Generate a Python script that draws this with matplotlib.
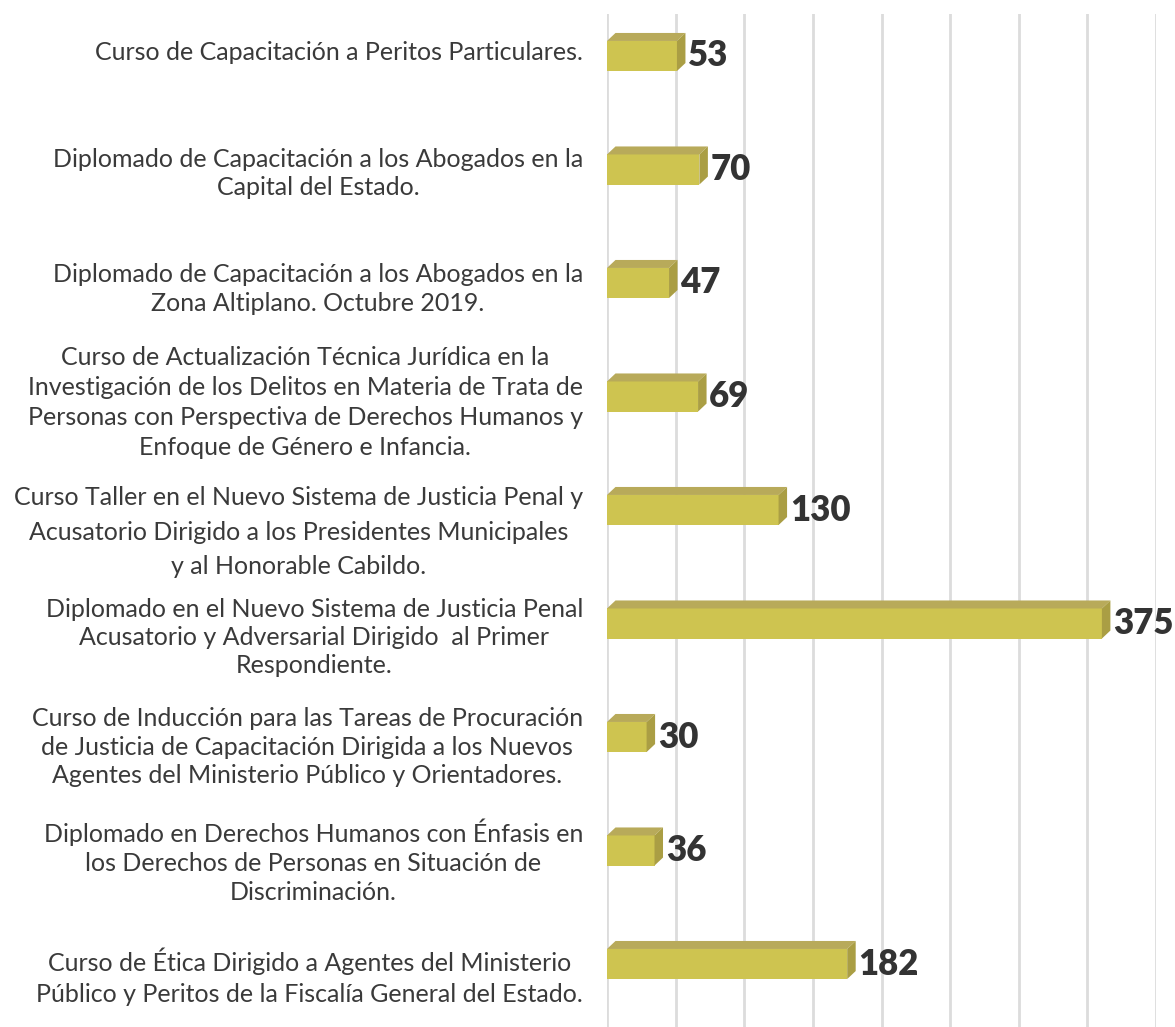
import numpy as np
import matplotlib
matplotlib.use("Agg")
import matplotlib.pyplot as plt
from matplotlib.patches import Polygon
from matplotlib.transforms import ScaledTranslation

# Training programmes and number of participants
categories = [
    "Curso de Capacitación a Peritos Particulares.",
    "Diplomado de Capacitación a los Abogados en la\nCapital del Estado.",
    "Diplomado de Capacitación a los Abogados en la\nZona Altiplano. Octubre 2019.",
    "Curso de Actualización Técnica Jurídica en la\nInvestigación de los Delitos en Materia de Trata de\n"
    "Personas con Perspectiva de Derechos Humanos y\nEnfoque de Género e Infancia.",
    "Curso Taller en el Nuevo Sistema de Justicia Penal y\nAcusatorio Dirigido a los Presidentes Municipales\n"
    "y al Honorable Cabildo.",
    "Diplomado en el Nuevo Sistema de Justicia Penal\nAcusatorio y Adversarial Dirigido  al Primer\nRespondiente.",
    "Curso de Inducción para las Tareas de Procuración\nde Justicia de Capacitación Dirigida a los Nuevos\n"
    "Agentes del Ministerio Público y Orientadores.",
    "Diplomado en Derechos Humanos con Énfasis en\nlos Derechos de Personas en Situación de\nDiscriminación.",
    "Curso de Ética Dirigido a Agentes del Ministerio\nPúblico y Peritos de la Fiscalía General del Estado.",
]
participants = [53, 70, 47, 69, 130, 375, 30, 36, 182]

# vertical nudge (px, positive = down) and line spacing of each category label
label_nudge = [-3, 4, 6, 6, 22, 14, 10, 11, 13]
label_spacing = [1.2, 1.23, 1.28, 1.36, 1.58, 1.27, 1.29, 1.31, 1.4]

FRONT = "#CEC450"
TOP = "#B8AA5A"
SIDE = "#AA9E44"
GRID = "#DCDCDC"
TEXT = "#3A3A3A"

W, H, DPI = 1175, 1027, 100
fig = plt.figure(figsize=(W / DPI, H / DPI), dpi=DPI)
ax_left, ax_right = 607 / W, 1156 / W
ax = fig.add_axes([ax_left, 0.0, ax_right - ax_left, 1 - 14 / H])

xmax = 416.0
ymin, ymax = -0.37, 8.555
ax.set_xlim(0, xmax)
ax.set_ylim(ymax, ymin)

# evenly spaced vertical grid
for gx in np.linspace(0, xmax, 9):
    ax.axvline(gx, color=GRID, lw=2.0, zorder=0)

ypos = np.arange(len(categories))
h = 0.265
# depth of the 3D extrusion in data units (about 8 px each way)
px_x = (ax_right - ax_left) * W / xmax
px_y = (1 - 14 / H) * H / (ymax - ymin)
dx = 8.5 / px_x
dy = 8.0 / px_y

for y, v in zip(ypos, participants):
    ax.barh(y, v, height=h, color=FRONT, edgecolor="none", zorder=3)
    top = y - h / 2
    bot = y + h / 2
    ax.add_patch(Polygon([(0, top), (v, top), (v + dx, top - dy), (dx, top - dy)],
                         closed=True, facecolor=TOP, edgecolor="none", zorder=3))
    ax.add_patch(Polygon([(v, top), (v + dx, top - dy), (v + dx, bot - dy), (v, bot)],
                         closed=True, facecolor=SIDE, edgecolor="none", zorder=3))
    ax.annotate(str(v), xy=(v + dx, y), xytext=(2, 0), textcoords="offset points",
                ha="left", va="center", fontsize=25, fontweight="heavy",
                color="#333333", family="Lato", zorder=4)

# category labels: centred lines in a right-aligned block
for y, c, nud, ls in zip(ypos, categories, label_nudge, label_spacing):
    tr = ax.get_yaxis_transform() + ScaledTranslation(-24 / DPI, -nud / DPI, fig.dpi_scale_trans)
    ax.text(0, y, c, transform=tr, ha="right", va="center", multialignment="center",
            fontsize=18, color=TEXT, family="Lato", linespacing=ls)

ax.set_xticks([])
ax.set_yticks([])
for s in ax.spines.values():
    s.set_visible(False)

fig.savefig("out.png", dpi=DPI, facecolor="white")
